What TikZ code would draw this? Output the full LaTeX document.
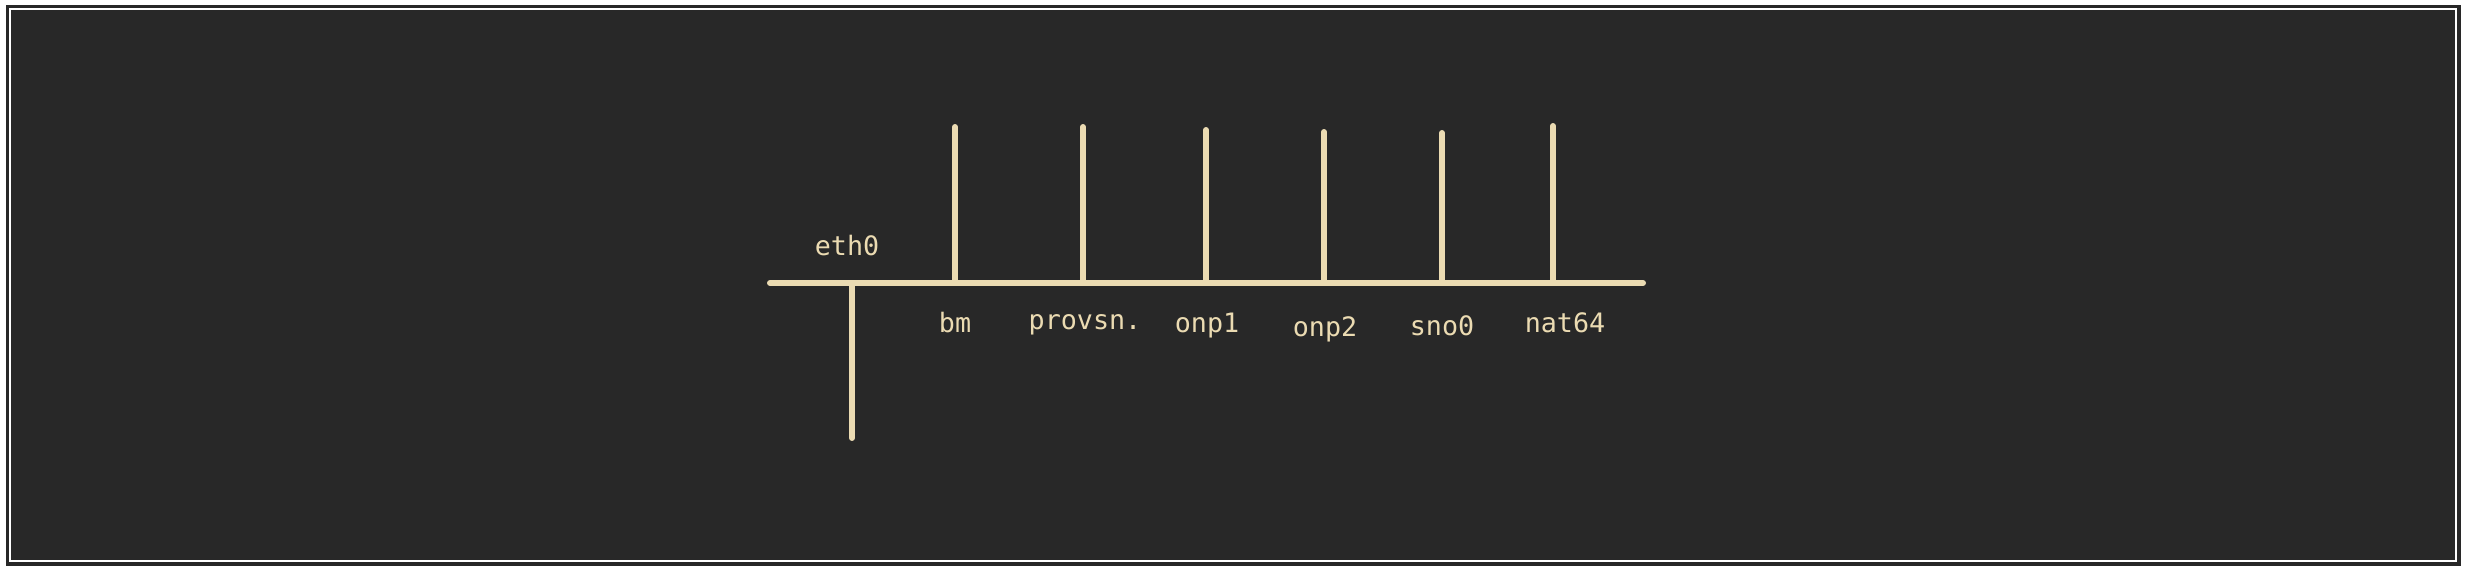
\documentclass[tikz,border=0pt]{standalone}
\usepackage{fontspec}
\setmonofont{DejaVu Sans Mono}
\usetikzlibrary{positioning}
\definecolor{bgdark}{HTML}{282828}
\definecolor{ink}{HTML}{EBDBB2}
\tikzstyle{wire} = [draw=ink, line width=1.7pt, line cap=round]
\tikzstyle{port} = [text=ink, font=\ttfamily\fontsize{7.6}{9}\selectfont, inner sep=0pt, anchor=base]
\tikzstyle{frame} = [draw=white, line width=0.8pt]

\begin{document}
\begin{tikzpicture}[x=0.01cm, y=-0.01cm]
\useasboundingbox (0,0) rectangle (2466,573);
% Background and frame
\fill[bgdark] (6,5) rectangle (2461,566);
\draw [frame] (10,9) rectangle (2456,561);

% Bus and uplink
\coordinate (busL) at (770,283);
\coordinate (busR) at (1643,283);
\coordinate (eth0Foot) at (852,285);
\coordinate (eth0End) at (852,438);
\node (eth0) [port] at (847,256) {eth0};

% Ports above the bus
\coordinate (bmTop) at (955,127);
\coordinate (bmFoot) at (955,281);
\coordinate (provTop) at (1083,127);
\coordinate (provFoot) at (1083,281);
\coordinate (onp1Top) at (1206,130);
\coordinate (onp1Foot) at (1206,281);
\coordinate (onp2Top) at (1324,132);
\coordinate (onp2Foot) at (1324,281);
\coordinate (sno0Top) at (1442,133);
\coordinate (sno0Foot) at (1442,281);
\coordinate (nat64Top) at (1553,126);
\coordinate (nat64Foot) at (1553,281);

% Port labels
\node (bm) [port] at (955,332) {bm};
\node (provsn) [port] at (1085,330) {provsn.};
\node (onp1) [port] at (1207,333) {onp1};
\node (onp2) [port] at (1325,337) {onp2};
\node (sno0) [port] at (1442,335) {sno0};
\node (nat64) [port] at (1565,332) {nat64};

% Drawing of lines
\draw [wire] (busL) -- (busR);
\draw [wire] (eth0Foot) -- (eth0End);
\draw [wire] (bmTop) -- (bmFoot);
\draw [wire] (provTop) -- (provFoot);
\draw [wire] (onp1Top) -- (onp1Foot);
\draw [wire] (onp2Top) -- (onp2Foot);
\draw [wire] (sno0Top) -- (sno0Foot);
\draw [wire] (nat64Top) -- (nat64Foot);

\end{tikzpicture}
\end{document}
